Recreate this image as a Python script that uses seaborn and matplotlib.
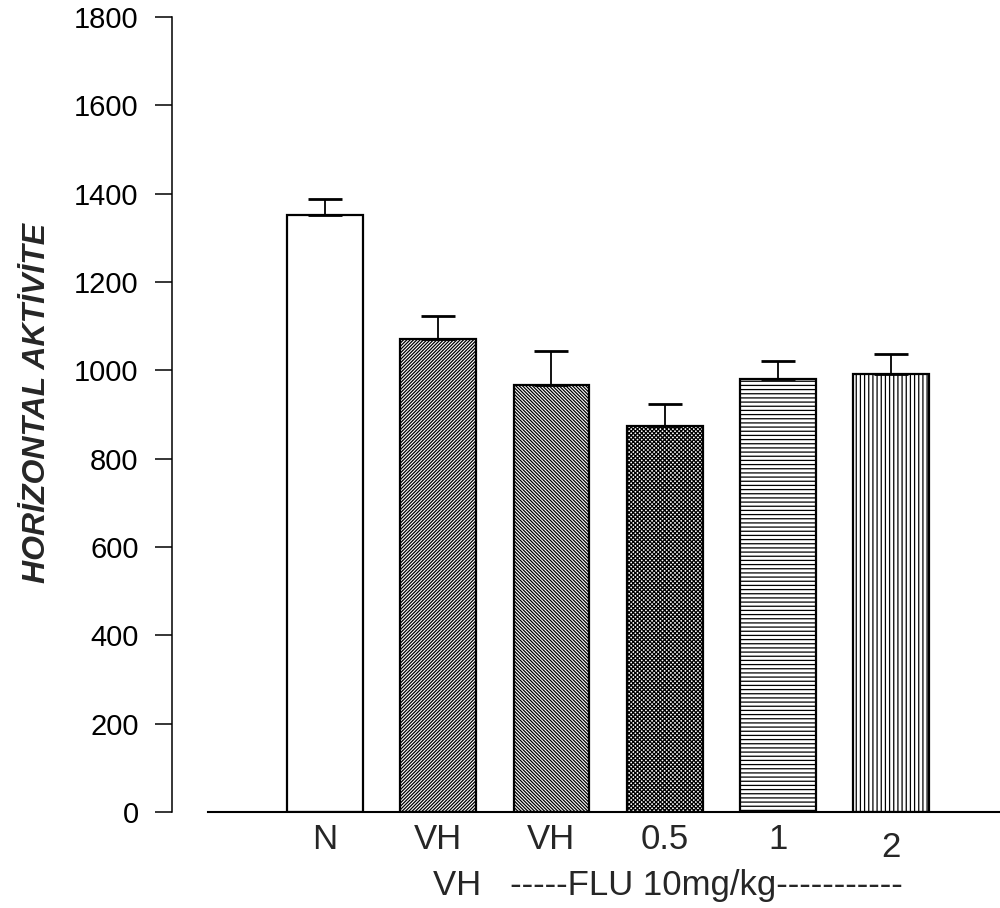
import matplotlib
matplotlib.use("Agg")
import matplotlib.pyplot as plt
import seaborn as sns
import numpy as np
import pandas as pd

# ---- data ----
groups = ["N", "VH", "VH+FLU", "FLU 0.5", "FLU 1", "FLU 2"]
tick_labels = ["N", "VH", "VH", "0.5", "1", "2"]
means = [1352, 1071, 967, 874, 980, 992]
sems = [35, 52, 77, 50, 41, 45]
hatches = ["", "//////////", "\\\\\\\\\\\\\\\\\\\\", "xxxxxxxx", "----", "||||"]
y_ticks = [0, 200, 400, 600, 800, 1000, 1200, 1400, 1600, 1800]
y_label = "HORİZONTAL AKTİVİTE"
group_label = "VH   -----FLU 10mg/kg-----------"

sns.set_style("ticks")
plt.rcParams["font.family"] = ["Liberation Sans", "DejaVu Sans"]
plt.rcParams["hatch.linewidth"] = 0.9
plt.rcParams["hatch.color"] = "black"

fig = plt.figure(figsize=(10, 9.08), dpi=100)
ax = fig.add_axes([0.172, 0.1057, 0.828, 0.8756])

df = pd.DataFrame({"group": groups, "value": means})
sns.barplot(data=df, x="group", y="value", order=groups, width=0.67,
            color="white", saturation=1, edgecolor="black", linewidth=1.6,
            errorbar=None, ax=ax)
for patch, h in zip(ax.patches, hatches):
    patch.set_hatch(h)

centers = [p.get_x() + p.get_width() / 2 for p in ax.patches]
ax.errorbar(centers, means, yerr=[np.zeros(len(means)), sems], fmt="none",
            ecolor="black", elinewidth=1.3, capsize=12.5, capthick=2, zorder=3)

ax.set_xlim(-1.352, 5.963)
ax.set_ylim(0, 1800)
ax.set_yticks(y_ticks)
ax.set_xticks(range(len(groups)))
ax.set_xticklabels(tick_labels, fontsize=25)
ax.tick_params(axis="x", length=0, pad=8)
ax.tick_params(axis="y", length=12, width=1.1, labelsize=21, pad=12,
               direction="out", colors="black")
ax.xaxis.get_major_ticks()[5].set_pad(14)

sns.despine(ax=ax)
ax.spines["bottom"].set_bounds(-1.035, 5.963)
ax.spines["left"].set_linewidth(1.1)
ax.spines["bottom"].set_linewidth(1.5)
ax.spines["left"].set_color("black")
ax.spines["bottom"].set_color("black")

ax.set_xlabel("")
ax.set_ylabel(y_label, fontsize=23, fontweight="bold", fontstyle="italic")
ax.yaxis.label.set_va("center")
ax.yaxis.set_label_coords(-0.163, 0.515)

fig.text(0.433, 1 - 885 / 908, group_label, fontsize=25, va="center", ha="left")

fig.savefig("out.png", dpi=100)
